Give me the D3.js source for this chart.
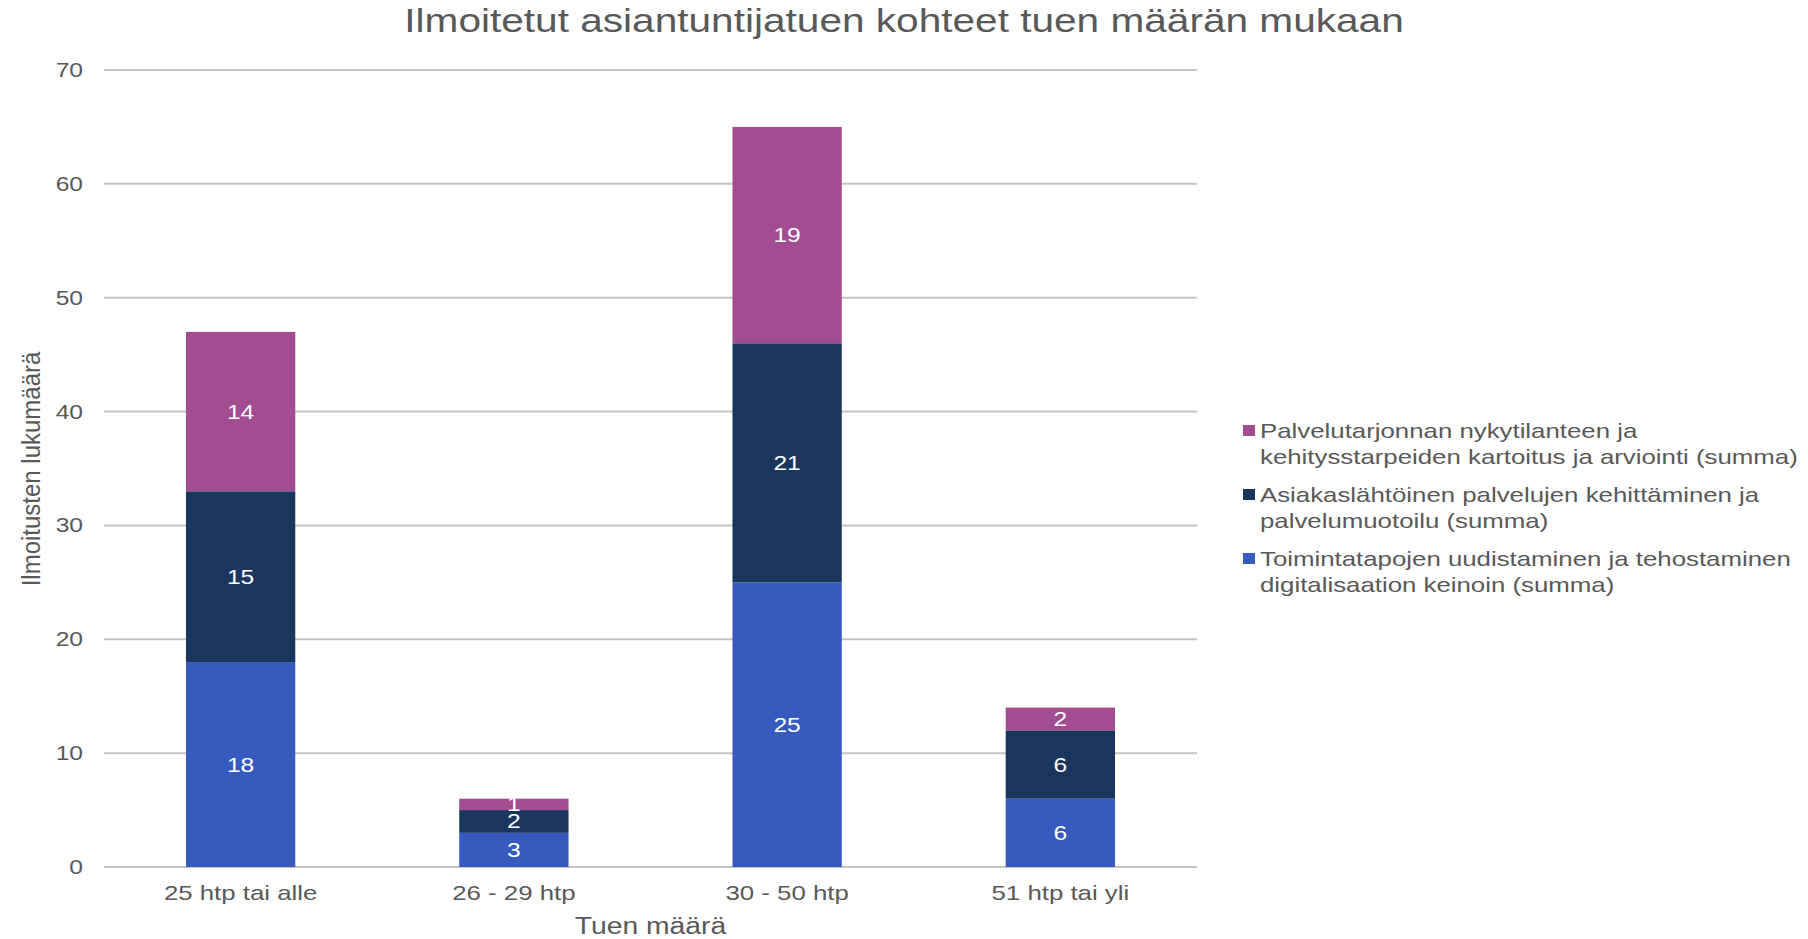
<!DOCTYPE html>
<html>
<head>
<meta charset="utf-8">
<script src="https://cdn.jsdelivr.net/npm/d3@7"></script>
<style>
  body { margin: 0; background: #fff; }
  text { font-family: "Liberation Sans", Arial, sans-serif; fill: #595959; }
</style>
</head>
<body>
<svg width="1808" height="939"></svg>
<script>
const categories = ['25 htp tai alle', '26 - 29 htp', '30 - 50 htp', '51 htp tai yli']
const seriesNames = [
  'Toimintatapojen uudistaminen ja tehostaminen|digitalisaation keinoin (summa)',
  'Asiakaslähtöinen palvelujen kehittäminen ja|palvelumuotoilu (summa)',
  'Palvelutarjonnan nykytilanteen ja|kehitysstarpeiden kartoitus ja arviointi (summa)'
]
const digitalisointi = [18, 3, 25, 6]
const asiakaslahtoinen = [15, 2, 21, 6]
const palvelutarjonta = [14, 1, 19, 2]
const yTicks = [0, 10, 20, 30, 40, 50, 60, 70]
const colors = ['#375ABE', '#1B365D', '#A24D92']

// the original picture is stretched sideways, so text is widened a bit
const S = 1.23

const svg = d3.select('svg')
const m = { left: 104, right: 1197, top: 70, bottom: 867 }

const rows = categories.map((c, i) => ({
  cat: c, s0: digitalisointi[i], s1: asiakaslahtoinen[i], s2: palvelutarjonta[i]
}))
const stack = d3.stack().keys(['s0', 's1', 's2'])(rows)

const x = d3.scaleBand().domain(categories).range([m.left, m.right]).paddingInner(0.6).paddingOuter(0.3)
const y = d3.scaleLinear().domain([0, 70]).range([m.bottom, m.top])

const wide = (tx, ty) => `translate(${tx},${ty}) scale(${S},1)`

// grid
svg.append('g').selectAll('line').data(yTicks).join('line')
  .attr('x1', m.left).attr('x2', m.right)
  .attr('y1', d => y(d)).attr('y2', d => y(d))
  .attr('stroke', '#c4c4c4').attr('stroke-width', 2)

svg.append('g').selectAll('text').data(yTicks).join('text')
  .attr('transform', d => wide(83, y(d) + 7))
  .attr('text-anchor', 'end').style('font-size', '20px')
  .text(d => d)

// bars
const layer = svg.append('g').selectAll('g').data(stack).join('g')
  .attr('fill', (d, i) => colors[i])
layer.selectAll('rect').data(d => d).join('rect')
  .attr('x', d => x(d.data.cat))
  .attr('width', x.bandwidth())
  .attr('y', d => y(d[1]))
  .attr('height', d => y(d[0]) - y(d[1]))

svg.append('g').selectAll('g').data(stack).join('g')
  .selectAll('text').data(d => d.map(v => ({ v, val: v[1] - v[0] }))).join('text')
  .attr('transform', d => wide(x(d.v.data.cat) + x.bandwidth() / 2, (y(d.v[0]) + y(d.v[1])) / 2 + 7))
  .attr('text-anchor', 'middle')
  .style('fill', '#fff').style('font-size', '20px')
  .text(d => d.val)

// x labels
svg.append('g').selectAll('text').data(categories).join('text')
  .attr('transform', d => wide(x(d) + x.bandwidth() / 2, 900))
  .attr('text-anchor', 'middle').style('font-size', '21px')
  .text(d => d)

svg.append('text').attr('transform', wide((m.left + m.right) / 2, 934))
  .attr('text-anchor', 'middle').style('font-size', '23px')
  .text('Tuen määrä')

svg.append('text')
  .attr('transform', `translate(40,469) scale(1.1,1) rotate(-90)`)
  .attr('text-anchor', 'middle').style('font-size', '24px')
  .text('Ilmoitusten lukumäärä')

svg.append('text').attr('transform', wide(904, 32))
  .attr('text-anchor', 'middle').style('font-size', '33px')
  .text('Ilmoitetut asiantuntijatuen kohteet tuen määrän mukaan')

// legend (top item = last series)
const legendOrder = [2, 1, 0]
const lg = svg.append('g').selectAll('g').data(legendOrder).join('g')
  .attr('transform', (d, i) => `translate(1243,${431 + i * 64})`)
lg.append('rect').attr('x', 0).attr('y', -6).attr('width', 12).attr('height', 11)
  .attr('fill', d => colors[d])
lg.append('text').attr('transform', wide(17, 0)).style('font-size', '21px')
  .selectAll('tspan').data(d => seriesNames[d].split('|')).join('tspan')
  .attr('x', 0).attr('y', (d, i) => 7 + i * 26)
  .text(d => d)
</script>
</body>
</html>
